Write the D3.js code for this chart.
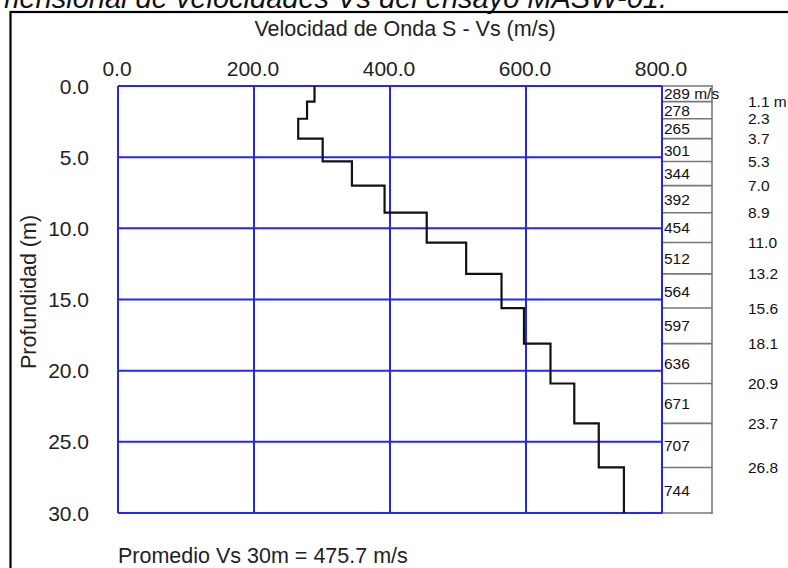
<!DOCTYPE html>
<html><head><meta charset="utf-8">
<script src="https://cdn.jsdelivr.net/npm/d3@7"></script>
<style>body{margin:0;background:#fff;overflow:hidden}svg{display:block}text{font-family:"Liberation Sans",Arial,sans-serif;fill:#222}</style>
</head><body>
<script>
const velocities = [289,278,265,301,344,392,454,512,564,597,636,671,707,744];
const layerBottoms = [1.1,2.3,3.7,5.3,7.0,8.9,11.0,13.2,15.6,18.1,20.9,23.7,26.8,30.0];
const xTicks = [0,200,400,600,800];
const yTicks = [0,5,10,15,20,25,30];
const depthLabels = ["1.1 m","2.3","3.7","5.3","7.0","8.9","11.0","13.2","15.6","18.1","20.9","23.7","26.8"];
const titleText = "Perfil unidimensional de velocidades Vs del ensayo MASW-01.";
const xTitle = "Velocidad de Onda S - Vs (m/s)";
const yTitle = "Profundidad (m)";
const avgText = "Promedio Vs 30m = 475.7 m/s";

const W=788,H=568;
const svg=d3.select("body").append("svg").attr("width",W).attr("height",H);
const x=d3.scaleLinear().domain([0,800]).range([118,662]);
const y=d3.scaleLinear().domain([0,30]).range([86,513]);

// top (cut) title
svg.append("text").attr("x",667).attr("y",8).attr("text-anchor","end")
  .style("font-style","italic").style("font-size","29px").style("fill","#111").text(titleText);

// frame
svg.append("rect").attr("x",10.5).attr("y",12).attr("width",W+20).attr("height",H+20)
  .attr("fill","none").attr("stroke","#000").attr("stroke-width",2.2);

// axis title
svg.append("text").attr("x",405).attr("y",36).attr("text-anchor","middle").style("font-size","21.5px").text(xTitle);

// grid
const blue="#2424ff";
svg.append("g").selectAll("line").data(xTicks).join("line")
  .attr("x1",d=>x(d)).attr("x2",d=>x(d)).attr("y1",y(0)).attr("y2",y(30))
  .attr("stroke",blue).attr("stroke-width",2);
svg.append("g").selectAll("line").data(yTicks).join("line")
  .attr("x1",x(0)).attr("x2",x(800)).attr("y1",d=>y(d)).attr("y2",d=>y(d))
  .attr("stroke",blue).attr("stroke-width",2);

// tick labels
svg.append("g").selectAll("text").data(xTicks).join("text")
  .attr("x",d=>x(d)-1).attr("y",76).attr("text-anchor","middle").style("font-size","21px")
  .text(d=>d.toFixed(1));
svg.append("g").selectAll("text").data(yTicks).join("text")
  .attr("x",89).attr("y",d=>y(d)).attr("dy","0.36em").attr("text-anchor","end").style("font-size","21px")
  .text(d=>d.toFixed(1));

// y title
svg.append("text").attr("transform","translate(36,292) rotate(-90)").attr("text-anchor","middle")
  .style("font-size","21.5px").text(yTitle);

// step profile
const pts=[];
let prevDepth=0;
velocities.forEach((v,i)=>{pts.push([v,prevDepth]);pts.push([v,layerBottoms[i]]);prevDepth=layerBottoms[i];});
svg.append("path").attr("d",d3.line().x(d=>x(d[0])).y(d=>y(d[1]))(pts))
  .attr("fill","none").attr("stroke","#111").attr("stroke-width",2.2);

// right column boxes
const bx0=x(800), bx1=712, grey="#777";
const bounds=[0].concat(layerBottoms);
svg.append("g").selectAll("line").data(bounds).join("line")
  .attr("x1",bx0).attr("x2",bx1).attr("y1",d=>y(d)).attr("y2",d=>y(d))
  .attr("stroke",grey).attr("stroke-width",1.6);
svg.append("line").attr("x1",bx1).attr("x2",bx1).attr("y1",y(0)-1).attr("y2",y(30)+1)
  .attr("stroke",grey).attr("stroke-width",1.6);
svg.append("line").attr("x1",bx0).attr("x2",bx0).attr("y1",y(0)).attr("y2",y(30))
  .attr("stroke",blue).attr("stroke-width",2);

svg.append("g").selectAll("text").data(velocities).join("text")
  .attr("x",bx0+2).attr("y",(d,i)=>(y(bounds[i])+y(bounds[i+1]))/2).attr("dy","0.36em")
  .style("font-size","15.5px").style("fill","#111")
  .text((d,i)=>i===0?d+" m/s":d);

// depth labels
svg.append("g").selectAll("text").data(depthLabels).join("text")
  .attr("x",748).attr("y",(d,i)=>y(layerBottoms[i])).attr("dy","0.36em")
  .style("font-size","15.5px").style("fill","#111").text(d=>d);

// average
svg.append("text").attr("x",118).attr("y",563).style("font-size","21.5px").text(avgText);
</script>
</body></html>
